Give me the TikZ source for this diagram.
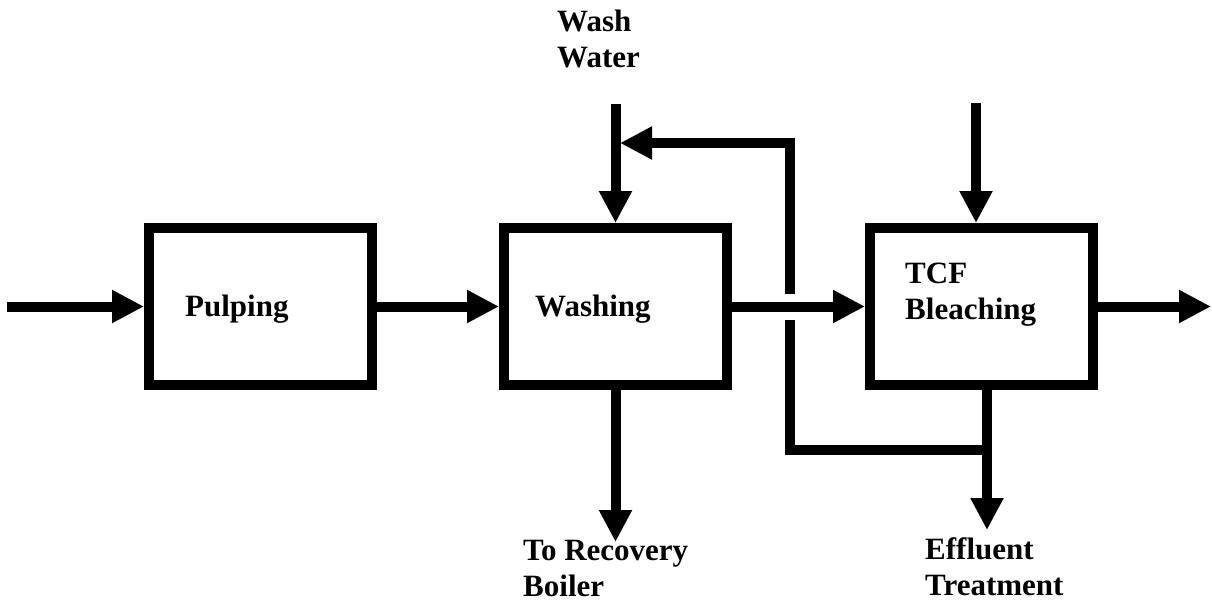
\documentclass[tikz,border=0pt]{standalone}
\usepackage{fontspec}
\setmainfont{Liberation Serif}
\usetikzlibrary{arrows.meta}
\begin{document}
\begin{tikzpicture}[x=1pt, y=1pt,
	stage/.style={draw, line width=10pt, minimum width=223pt, minimum height=157pt, inner sep=0pt},
	txt/.style={inner sep=0pt, align=left, font=\fontsize{31}{36}\selectfont\bfseries},
	flow/.style={line width=10pt, -{Triangle[length=32pt, width=31pt]}},
	pipe/.style={line width=10pt}]
		\useasboundingbox (0,0) rectangle (1212,-603);
		% process stages
		\node[stage] (pulp) at (260.5,-306.5) {};
		\node[stage] (wash) at (615.5,-306.5) {};
		\node[stage] (tcf) at (981.5,-306.5) {};
		\node[txt, anchor=base west] (pulptxt) at (185,-316) {Pulping};
		\node[txt, anchor=base west] (washtxt) at (535,-316) {Washing};
		\node[txt, anchor=north west] (tcftxt) at (905,-263) {TCF\\Bleaching};
		\node[txt, anchor=north west] (wwtxt) at (557,-10) {Wash\\Water};
		\node[txt, anchor=north west] (rbtxt) at (523,-540) {To Recovery\\Boiler};
		\node[txt, anchor=north west] (ettxt) at (925,-537) {Effluent\\Treatment};
		% free ends
		\coordinate (in) at (7,-306.5);
		\coordinate (out) at (1211,-306.5);
		\coordinate (ww) at (615.5,-104);
		\coordinate (chem) at (976,-103);
		\coordinate (rb) at (615.5,-542);
		\coordinate (et) at (987,-530);
		\coordinate (jn) at (987,-450);
		\coordinate (rcb) at (790,-450);
		\coordinate (rclo) at (790,-320);
		\coordinate (rchi) at (790,-294);
		\coordinate (rct) at (790,-143);
		\coordinate (rctip) at (620,-143);
		% main line
		\draw[flow] (in) -- (pulp.west);
		\draw[flow] (pulp.east) -- (wash.west);
		\draw[flow] (wash.east) -- (tcf.west);
		\draw[flow] (tcf.east) -- (out);
		\draw[flow] (ww) -- (wash.north);
		\draw[flow] (chem) -- ([xshift=-5.5pt]tcf.north);
		\draw[flow] (wash.south) -- (rb);
		\draw[flow] ([xshift=5.5pt]tcf.south) -- (et);
		% recycle to washer
		\draw[pipe] (jn) -- (rcb) -- (rclo);
		\draw[flow] (rchi) -- (rct) -- (rctip);
\end{tikzpicture}
\end{document}
